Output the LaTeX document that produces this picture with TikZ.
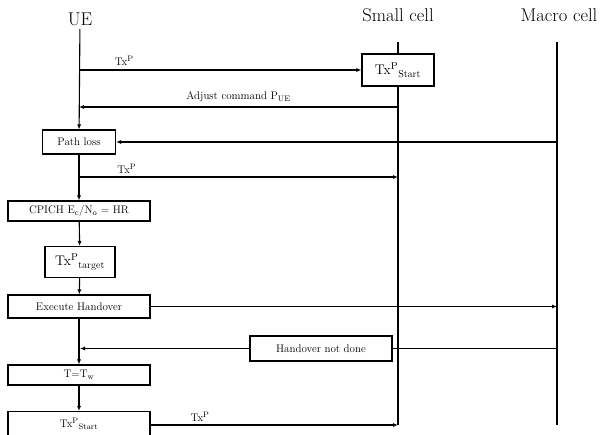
\documentclass[tikz,border=0pt]{standalone}
\usepackage{tikz}
\usetikzlibrary{arrows.meta,positioning,calc}

\begin{document}
\begin{tikzpicture}[
  x=1pt, y=-1pt,
  head/.style={font=\fontsize{18.5}{20}\selectfont},
  box/.style={draw, line width=1.1pt, inner sep=1pt, align=center,
    font=\fontsize{11}{12}\selectfont},
  wide/.style={box, minimum width=142pt},
  txbox/.style={box, font=\fontsize{14}{15}\selectfont},
  lbl/.style={font=\fontsize{11}{12}\selectfont},
  line/.style={line width=1.1pt},
  arr/.style={line, -{Latex[length=5pt,width=4pt]}}
]
\useasboundingbox (0,0) rectangle (602,434);
% heads and lifeline ends
\node[head] (ue) at (80,19) {UE};
\node[head] (small) at (398,15) {Small cell};
\node[head] (macro) at (559,15) {Macro cell};
\coordinate (sctop) at (398,42);
\coordinate (scbot) at (398,425);
\coordinate (mctop) at (557,42);
\coordinate (mcbot) at (557,425);
% boxes
\node[txbox, minimum width=72pt, minimum height=32pt] (start) at (398,70)
  {Tx$^{\mathrm{P}}{}_{\mathrm{Start}}$};
\node[box, minimum width=73pt, minimum height=24pt] (pathloss) at (79,142) {Path loss};
\node[wide, minimum height=20pt] (cpich) at (79,211)
  {CPICH E$_{\mathrm{c}}$/N$_{\mathrm{o}}$ = HR};
\node[txbox, minimum width=70pt, minimum height=31pt] (target) at (80,262)
  {Tx$^{\mathrm{P}}{}_{\mathrm{target}}$};
\node[wide, minimum height=23pt] (exec) at (79,306.5) {Execute Handover};
\node[wide, minimum height=25pt] (notdone) at (321,348.5) {Handover not done};
\node[wide, minimum height=20pt] (tw) at (79,375) {T=T$_{\mathrm{w}}$};
\node[wide, minimum height=24pt] (start2) at (79,423.5)
  {Tx$^{\mathrm{P}}{}_{\mathrm{Start}}$};
\coordinate (ue70) at (79,70);
\coordinate (ue107) at (79,107);
\coordinate (ue177) at (79,177);
% lifelines
\draw[arr] (ue) -- (pathloss);
\draw[line] (sctop) -- (start);
\draw[line] (start) -- (scbot);
\draw[line] (mctop) -- (mcbot);
\draw[arr] (pathloss) -- (cpich);
\draw[arr] (cpich) -- (target);
\draw[arr] (target) -- (exec);
\draw[arr] (exec) -- (tw);
\draw[arr] (tw) -- (start2);
% messages
\draw[arr] (ue70) -- node[lbl, pos=0.16, above=1pt] {Tx$^{\mathrm{P}}$} (start.west);
\draw[arr] (ue107 -| sctop) -- node[lbl, above=1pt] {Adjust command P$_{\mathrm{UE}}$} (ue107);
\draw[arr] (pathloss.east -| mctop) -- (pathloss.east);
\draw[arr] (ue177) -- node[lbl, pos=0.15, above=0pt] {Tx$^{\mathrm{P}}$} (ue177 -| sctop);
\draw[arr] (exec.east) -- (exec.east -| mctop);
\draw[line] (notdone.east -| mctop) -- (notdone.east);
\draw[arr] (notdone.west) -- (notdone.west -| ue);
\draw[arr] (start2.east |- scbot) -- node[lbl, pos=0.2, above=0pt] {Tx$^{\mathrm{P}}$} (scbot);
\end{tikzpicture}
\end{document}
